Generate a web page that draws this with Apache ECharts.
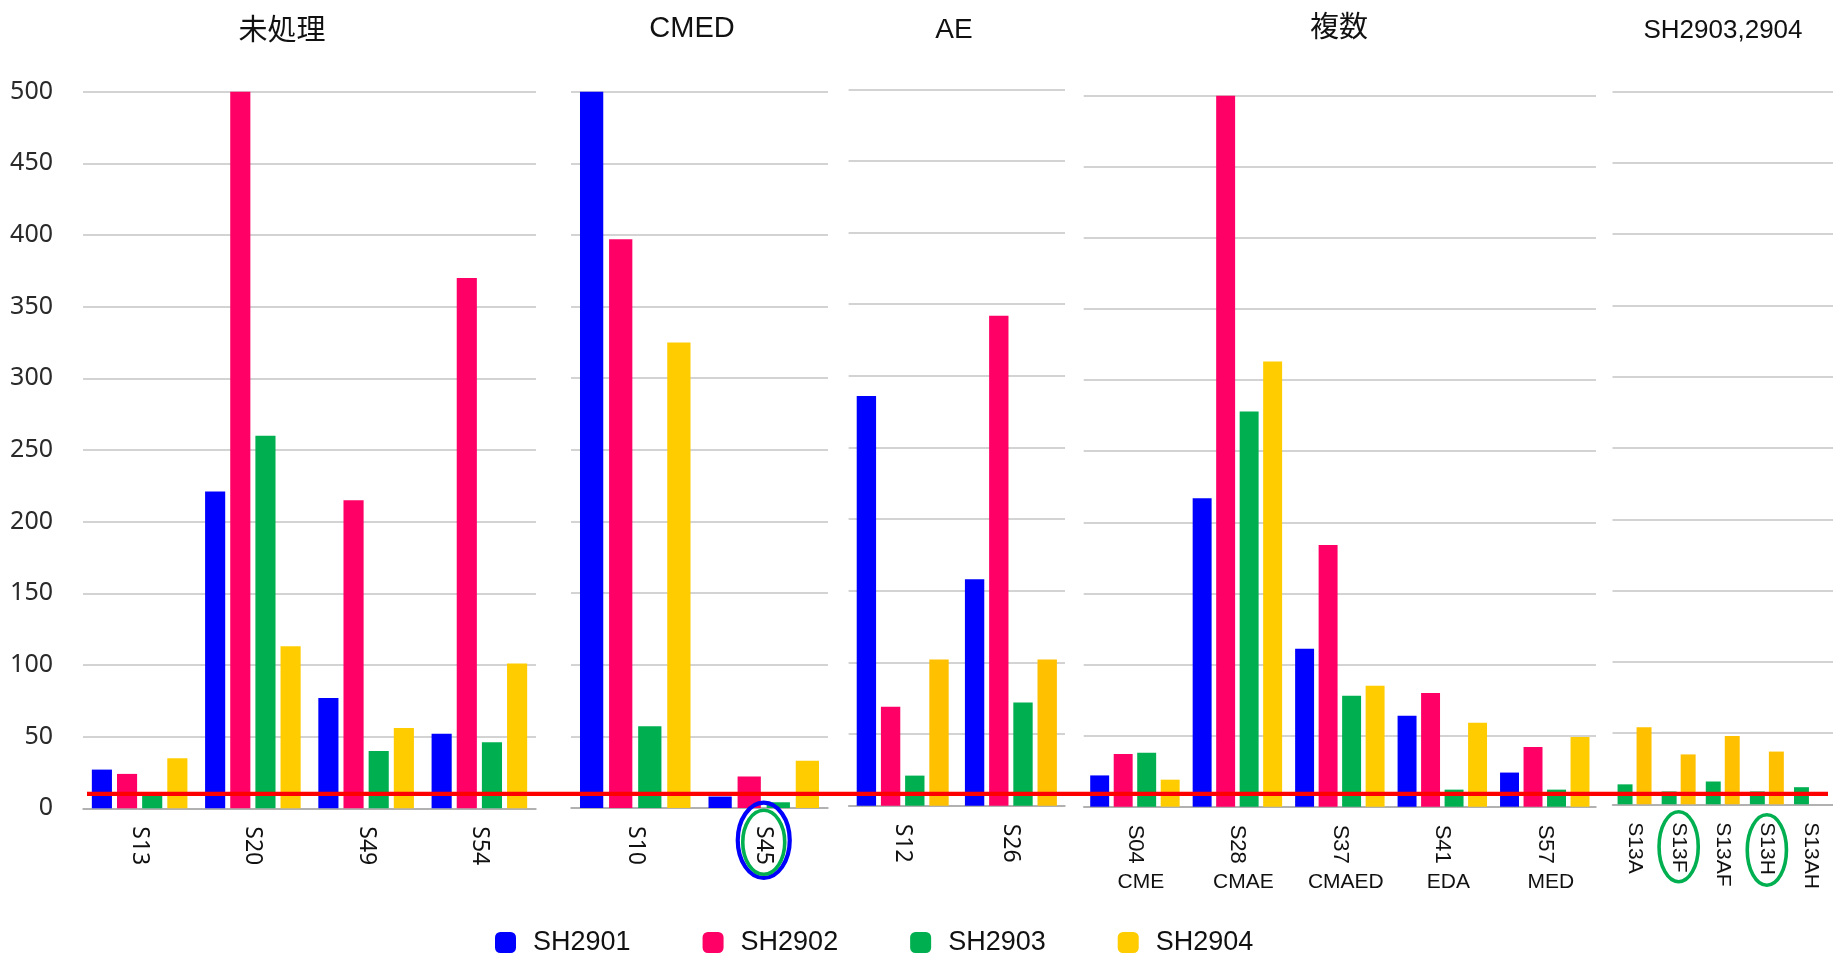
<!DOCTYPE html>
<html>
<head>
<meta charset="utf-8">
<title>SH2901–SH2904</title>
<script src="https://cdn.jsdelivr.net/npm/echarts@6/dist/echarts.min.js"></script>
<style>
  html, body { margin: 0; padding: 0; background: #fff; }
  #chart { width: 1833px; height: 953px; }
</style>
</head>
<body>
<div id="chart"></div>
<script>
// ---- data ----
const seriesNames = ['SH2901', 'SH2902', 'SH2903', 'SH2904'];
const yTicks = [0, 50, 100, 150, 200, 250, 300, 350, 400, 450, 500];
const threshold = 10;

// 未処理
const untreatedCats = ['S13', 'S20', 'S49', 'S54'];
const untreatedSH2901 = [27, 221, 77, 52];
const untreatedSH2902 = [24, 500, 215, 370];
const untreatedSH2903 = [10, 260, 40, 46];
const untreatedSH2904 = [35, 113, 56, 101];

// CMED
const cmedCats = ['S10', 'S45'];
const cmedSH2901 = [500, 8];
const cmedSH2902 = [397, 22];
const cmedSH2903 = [57, 4];
const cmedSH2904 = [325, 33];

// AE
const aeCats = ['S12', 'S26'];
const aeSH2901 = [286, 158];
const aeSH2902 = [69, 342];
const aeSH2903 = [21, 72];
const aeSH2904 = [102, 102];

// 複数
const multiCats = ['S04', 'S28', 'S37', 'S41', 'S57'];
const multiTreatments = ['CME', 'CMAE', 'CMAED', 'EDA', 'MED'];
const multiSH2901 = [22, 217, 111, 64, 24];
const multiSH2902 = [37, 500, 184, 80, 42];
const multiSH2903 = [38, 278, 78, 12, 12];
const multiSH2904 = [19, 313, 85, 59, 49];

// SH2903,2904
const shCats = ['S13A', 'S13F', 'S13AF', 'S13H', 'S13AH'];
const shSH2903 = [14, 9, 16, 9, 12];
const shSH2904 = [54, 35, 48, 37, null];

// categories that get circled below the axis: [axis index, category, colours]
const circled = [
  { axis: 1, cat: 'S45', rings: [
      { color: '#0000ff', rx: 26, ry: 37.6, dy: 32.3, w: 4.2 },
      { color: '#00b050', rx: 21, ry: 32, dy: 34.3, w: 3.6 } ] },
  { axis: 4, cat: 'S13F', rings: [ { color: '#00b050', rx: 19.6, ry: 35, dy: 42.4, w: 3.6 } ] },
  { axis: 4, cat: 'S13H', rings: [ { color: '#00b050', rx: 19.6, ry: 35.2, dy: 45.7, w: 3.6 } ] }
];

// ---- styling ----
const COLORS = { SH2901: '#0000ff', SH2902: '#ff0066', SH2903: '#00b050', SH2904: '#ffcc00' };
const AMBER = '#ffc000';
const SANS = 'Liberation Sans, Arial, sans-serif';
const UI = 'Noto Sans, sans-serif';
const CJK = 'Noto Sans CJK JP, sans-serif';

const panels = [
  { cats: untreatedCats, left: 83,    top: 91.7, width: 453,   height: 716.6, catGap: '15.6%', gap: '25%',
    font: UI, fs: 23, values: [untreatedSH2901, untreatedSH2902, untreatedSH2903, untreatedSH2904], names: seriesNames },
  { cats: cmedCats,      left: 571,   top: 91.7, width: 257,   height: 716.3, catGap: '14%',   gap: '25%',
    font: UI, fs: 23, values: [cmedSH2901, cmedSH2902, cmedSH2903, cmedSH2904], names: seriesNames },
  { cats: aeCats,        left: 848.6, top: 89.3, width: 216.4, height: 716.4, catGap: '15%',   gap: '25%',
    font: UI, fs: 23, values: [aeSH2901, aeSH2902, aeSH2903, aeSH2904], names: seriesNames, amber: true },
  { cats: multiCats,     left: 1083.7, top: 95.7, width: 512.3, height: 711,  catGap: '12.7%', gap: '24%',
    font: SANS, fs: 22, values: [multiSH2901, multiSH2902, multiSH2903, multiSH2904], names: seriesNames },
  { cats: shCats,        left: 1612.5, top: 91.7, width: 222,  height: 712.6, catGap: '23%',   gap: '27%',
    font: SANS, fs: 21, values: [shSH2903, shSH2904], names: ['SH2903', 'SH2904'], amber: true }
];

const titles = [
  { text: '未処理', x: 282, top: 14, font: CJK, fs: 29 },
  { text: 'CMED', x: 692, top: 14, font: SANS, fs: 29 },
  { text: 'AE', x: 954, top: 16.5, font: SANS, fs: 28 },
  { text: '複数', x: 1339, top: 11.5, font: CJK, fs: 29 },
  { text: 'SH2903,2904', x: 1723, top: 18, font: SANS, fs: 26 }
];

const grid = [], xAxis = [], yAxis = [], series = [];

panels.forEach((p, i) => {
  grid.push({ left: p.left, top: p.top, width: p.width, height: p.height, containLabel: false });
  xAxis.push({
    type: 'category', gridIndex: i, data: p.cats,
    axisLine: { show: true, lineStyle: { color: '#a6a6a6', width: 1.5 } },
    axisTick: { show: false },
    axisLabel: { rotate: -90, margin: 18, fontFamily: p.font, fontSize: p.fs, color: '#111' }
  });
  yAxis.push({
    type: 'value', gridIndex: i, min: yTicks[0], max: yTicks[yTicks.length - 1],
    interval: yTicks[1] - yTicks[0],
    axisLine: { show: false }, axisTick: { show: false },
    splitLine: { show: true, lineStyle: { color: '#c4c4c4', width: 1.5 } },
    axisLabel: i === 0
      ? { show: true, margin: 30, fontFamily: UI, fontSize: 25, color: '#2a2a2a' }
      : { show: false }
  });
  p.names.forEach((name, k) => {
    const color = (name === 'SH2904' && p.amber) ? AMBER : COLORS[name];
    series.push({
      type: 'bar', name: name, xAxisIndex: i, yAxisIndex: i,
      data: p.values[k],
      barGap: p.gap, barCategoryGap: p.catGap,
      itemStyle: { color: color },
      emphasis: { disabled: true },
      animation: false
    });
  });
});

// treatment names under the 複数 sample labels
xAxis.push({
  type: 'category', gridIndex: 3, data: multiTreatments, position: 'bottom', offset: 57,
  axisLine: { show: false }, axisTick: { show: false },
  axisLabel: { margin: 8, fontFamily: SANS, fontSize: 21, color: '#111', padding: [0, 0, 0, 12] }
});

const option = {
  backgroundColor: '#fff',
  animation: false,
  title: titles.map(t => ({
    text: t.text, left: t.x, top: t.top, textAlign: 'center', padding: 0,
    textStyle: { fontFamily: t.font, fontSize: t.fs, fontWeight: 'normal', color: '#111' }
  })),
  legend: {
    data: seriesNames, left: 495, top: 929, padding: 0,
    icon: 'roundRect', itemWidth: 21, itemHeight: 21, itemGap: 72,
    textStyle: { fontFamily: SANS, fontSize: 27, color: '#111', padding: [0, 0, 0, 12] },
    selectedMode: false
  },
  grid: grid, xAxis: xAxis, yAxis: yAxis, series: series
};

const chart = echarts.init(document.getElementById('chart'), null, { renderer: 'canvas' });
chart.setOption(option);

// threshold line across all panels, plus rings around highlighted samples
function overlay() {
  const y = chart.convertToPixel({ yAxisIndex: 0 }, threshold);
  const x0 = panels[0].left + 4;
  const x1 = 1833 - 5;
  const elements = [{
    type: 'line', z: 100, silent: true,
    shape: { x1: x0, y1: y, x2: x1, y2: y },
    style: { stroke: '#ff0000', lineWidth: 4.3 }
  }];
  circled.forEach(c => {
    const cx = chart.convertToPixel({ xAxisIndex: c.axis }, c.cat);
    const base = chart.convertToPixel({ yAxisIndex: c.axis }, 0);
    c.rings.forEach(r => {
      elements.push({
        type: 'ellipse', z: 100, silent: true,
        shape: { cx: cx, cy: base + r.dy, rx: r.rx, ry: r.ry },
        style: { fill: null, stroke: r.color, lineWidth: r.w }
      });
    });
  });
  chart.setOption({ graphic: elements });
}
overlay();
</script>
</body>
</html>
